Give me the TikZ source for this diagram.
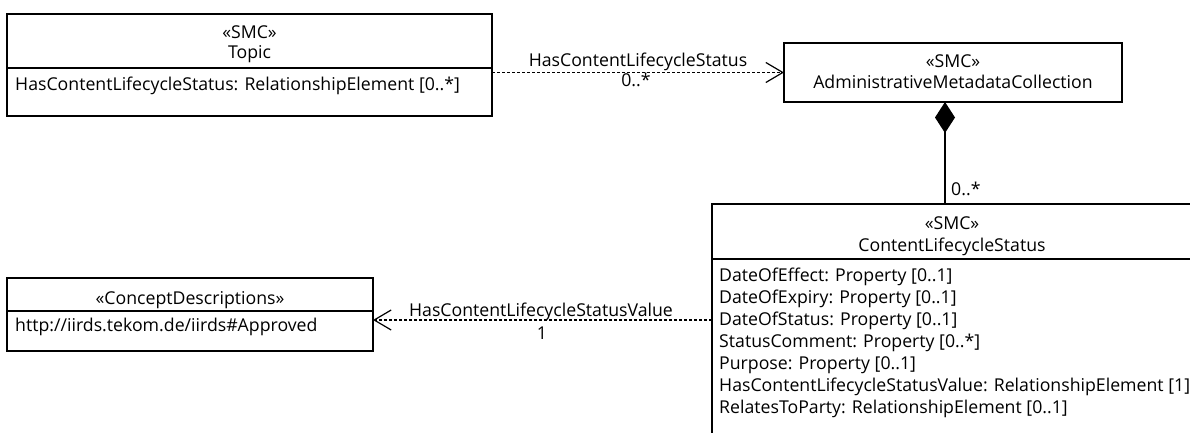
\documentclass[tikz,border=0pt]{standalone}
\usepackage{fontspec}
\setmainfont{Open Sans}
\usetikzlibrary{arrows.meta}
\begin{document}
\begin{tikzpicture}[x=1pt,y=-1pt,
  font=\fontsize{17.7}{22}\selectfont,
  umlbox/.style={draw, line width=1.3pt, inner sep=0pt, outer sep=0pt, rectangle},
  divider/.style={line width=1.3pt},
  lbl/.style={inner sep=0pt, anchor=base},
  attr/.style={inner sep=0pt, anchor=base west},
  dep/.style={draw, line width=1.3pt, dash pattern=on 2.6pt off 2.4pt,
    -{Straight Barb[length=17pt,width=20pt,line width=1.2pt]}},
  comp/.style={draw, line width=1.3pt, -{Diamond[length=31pt,width=20pt]}},
]
\useasboundingbox (0,0) rectangle (1190,433);
\clip (0,0) rectangle (1190,433);

% Topic
\node[umlbox, minimum width=485pt, minimum height=102pt] (topic) at (249.5,65) {};
\draw[divider] (topic.west |- 0,68) -- (topic.east |- 0,68);
\node[lbl] (topicst) at (249.5,39) {«SMC»};
\node[lbl] (topicnm) at (249.5,59) {Topic};
\node[attr] (topica1) at (15,91) {HasContentLifecycleStatus: RelationshipElement [0..*]};

% AdministrativeMetadataCollection
\node[umlbox, minimum width=338pt, minimum height=59pt] (amc) at (953,72.5) {};
\node[lbl] (amcst) at (953,68) {«SMC»};
\node[lbl] (amcnm) at (953,89) {AdministrativeMetadataCollection};

% ContentLifecycleStatus
\node[umlbox, minimum width=482pt, minimum height=246pt] (cls) at (953,327) {};
\draw[divider] (cls.west |- 0,259) -- (cls.east |- 0,259);
\node[lbl] (clsst) at (952,229) {«SMC»};
\node[lbl] (clsnm) at (952,251) {ContentLifecycleStatus};
\node[attr] (clsa1) at (719,281) {DateOfEffect: Property [0..1]};
\node[attr] (clsa2) at (719,303) {DateOfExpiry: Property [0..1]};
\node[attr] (clsa3) at (719,325) {DateOfStatus: Property [0..1]};
\node[attr] (clsa4) at (719,347) {StatusComment: Property [0..*]};
\node[attr] (clsa5) at (719,369) {Purpose: Property [0..1]};
\node[attr] (clsa6) at (719,391) {HasContentLifecycleStatusValue: RelationshipElement [1]};
\node[attr] (clsa7) at (719,413) {RelatesToParty: RelationshipElement [0..1]};

% ConceptDescriptions
\node[umlbox, minimum width=366pt, minimum height=73pt] (cd) at (190,314.5) {};
\draw[divider] (cd.west |- 0,311) -- (cd.east |- 0,311);
\node[lbl] (cdst) at (190,304) {«ConceptDescriptions»};
\node[attr] (cda1) at (15,331) {http://iirds.tekom.de/iirds\#Approved};

% Connectors
\draw[dep] (topic.east |- amc.west) -- (amc.west);
\node[lbl] (dep1nm) at (638,67) {HasContentLifecycleStatus};
\node[lbl] (dep1mul) at (636,87) {0..*};

\coordinate (cx) at (945,0);
\draw[comp] (cls.north -| cx) -- (amc.south -| cx);
\node[attr] (compmul) at (951,195) {0..*};

\coordinate (vy) at (0,320);
\draw[dep] (cls.west |- vy) -- (cd.east |- vy);
\node[lbl] (dep2nm) at (541,316) {HasContentLifecycleStatusValue};
\node[lbl] (dep2mul) at (542,339) {1};
\end{tikzpicture}
\end{document}
